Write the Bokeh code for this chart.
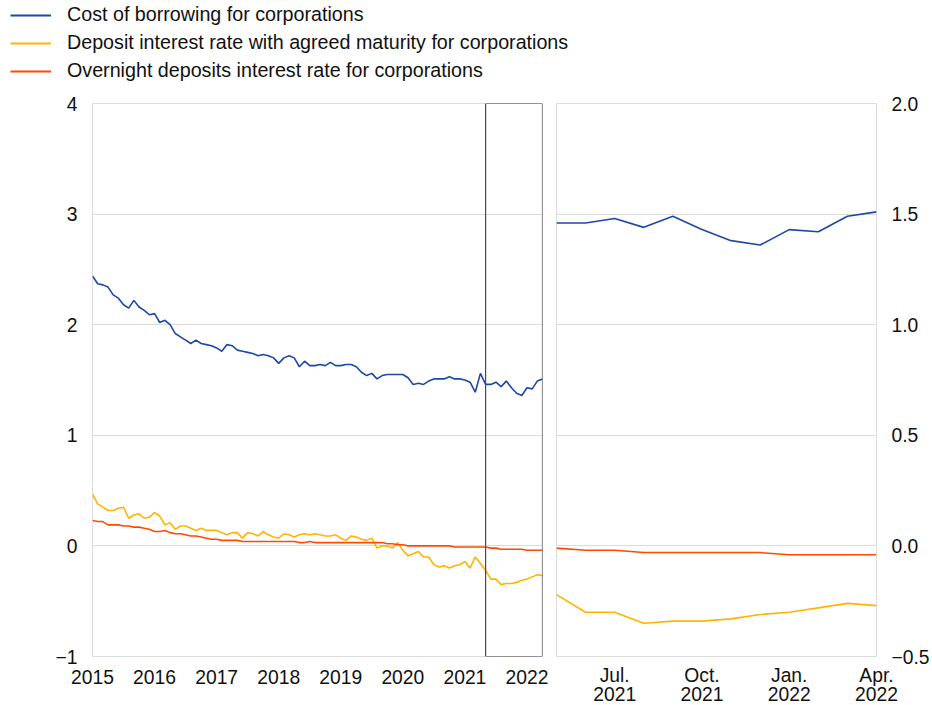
from bokeh.plotting import figure
from bokeh.models import Legend, LegendItem, FixedTicker, BoxAnnotation, Range1d
from bokeh.layouts import row, column
from bokeh.embed import file_html
from bokeh.resources import INLINE

# ---------------- data (monthly, Jan 2015 - Apr 2022) ----------------
months = [f"{y}-{m:02d}" for y in range(2015, 2023) for m in range(1, 13)][:88]

cost_of_borrowing = [
    2.44, 2.37, 2.36, 2.34, 2.27, 2.24, 2.18, 2.15, 2.22, 2.16, 2.13, 2.09,
    2.10, 2.02, 2.04, 2.00, 1.92, 1.89, 1.86, 1.83, 1.86, 1.83, 1.82, 1.81,
    1.79, 1.76, 1.82, 1.81, 1.77, 1.76, 1.75, 1.74, 1.72, 1.73, 1.72, 1.70,
    1.65, 1.70, 1.72, 1.70, 1.62, 1.67, 1.63, 1.63, 1.64, 1.63, 1.66, 1.63,
    1.63, 1.64, 1.64, 1.62, 1.57, 1.54, 1.56, 1.51, 1.54, 1.55, 1.55, 1.55,
    1.55, 1.52, 1.46, 1.47, 1.46, 1.49, 1.51, 1.51, 1.51, 1.53, 1.51, 1.51,
    1.50, 1.48, 1.39, 1.56, 1.46, 1.46, 1.48, 1.44, 1.49, 1.43, 1.38, 1.36,
    1.43, 1.42, 1.49, 1.51,
]
deposit_agreed_maturity = [
    0.47, 0.38, 0.35, 0.32, 0.32, 0.34, 0.35, 0.25, 0.28, 0.29, 0.25, 0.26,
    0.30, 0.27, 0.19, 0.21, 0.15, 0.18, 0.18, 0.16, 0.14, 0.16, 0.14, 0.14,
    0.14, 0.12, 0.10, 0.12, 0.12, 0.07, 0.12, 0.11, 0.09, 0.13, 0.10, 0.08,
    0.07, 0.11, 0.10, 0.08, 0.10, 0.11, 0.10, 0.11, 0.10, 0.09, 0.09, 0.10,
    0.07, 0.05, 0.09, 0.08, 0.06, 0.05, 0.07, -0.02, 0.00, 0.00, -0.02, 0.03,
    -0.04, -0.09, -0.07, -0.05, -0.10, -0.10, -0.17, -0.19, -0.18, -0.20, -0.18, -0.17,
    -0.14, -0.20, -0.10, -0.16, -0.22, -0.30, -0.30, -0.35, -0.34, -0.34, -0.33, -0.31,
    -0.30, -0.28, -0.26, -0.27,
]
overnight_deposits = [
    0.23, 0.22, 0.22, 0.19, 0.19, 0.19, 0.18, 0.18, 0.17, 0.17, 0.16, 0.15,
    0.13, 0.13, 0.14, 0.12, 0.11, 0.11, 0.10, 0.09, 0.09, 0.08, 0.07, 0.06,
    0.06, 0.05, 0.05, 0.05, 0.05, 0.04, 0.04, 0.04, 0.04, 0.04, 0.04, 0.04,
    0.04, 0.04, 0.04, 0.04, 0.03, 0.03, 0.04, 0.03, 0.03, 0.03, 0.03, 0.03,
    0.03, 0.03, 0.03, 0.03, 0.03, 0.03, 0.03, 0.03, 0.03, 0.02, 0.02, 0.01,
    0.01, 0.00, 0.00, 0.00, 0.00, 0.00, 0.00, 0.00, 0.00, 0.00, -0.01, -0.01,
    -0.01, -0.01, -0.01, -0.01, -0.01, -0.02, -0.02, -0.03, -0.03, -0.03, -0.03, -0.03,
    -0.04, -0.04, -0.04, -0.04,
]

series_labels = [
    "Cost of borrowing for corporations",
    "Deposit interest rate with agreed maturity for corporations",
    "Overnight deposits interest rate for corporations",
]
series_colors = ["#1d48a6", "#ffb400", "#ff4b00"]

year_labels = ["2015", "2016", "2017", "2018", "2019", "2020", "2021", "2022"]
zoom_first, zoom_last = "2021-05", "2022-04"
zoom_tick_months = ["2021-07", "2021-10", "2022-01", "2022-04"]
zoom_tick_labels = ["Jul.\n2021", "Oct.\n2021", "Jan.\n2022", "Apr.\n2022"]

left_y_ticks = [-1, 0, 1, 2, 3, 4]
left_y_labels = ["\u22121", "0", "1", "2", "3", "4"]
right_y_ticks = [-0.5, 0.0, 0.5, 1.0, 1.5, 2.0]
right_y_labels = ["\u22120.5", "0.0", "0.5", "1.0", "1.5", "2.0"]

# ---------------- derived ----------------
x = list(range(len(months)))
year_ticks = [months.index(f"{y}-01") for y in year_labels]
z0, z1 = months.index(zoom_first), months.index(zoom_last)
zoom_ticks = [months.index(m) for m in zoom_tick_months]
all_series = [cost_of_borrowing, deposit_agreed_maturity, overnight_deposits]

FONT = "Liberation Sans"
GRID = "#dcdcdc"
LINE_W = 1.6
NAN = float("nan")


def style(p):
    p.background_fill_color = "white"
    p.border_fill_color = "white"
    p.outline_line_color = GRID
    p.xgrid.visible = False
    p.ygrid.grid_line_color = GRID
    p.ygrid.grid_line_width = 1
    for ax in (p.xaxis[0], p.yaxis[0]):
        ax.axis_line_color = None
        ax.major_tick_line_color = None
        ax.minor_tick_line_color = None
        ax.major_tick_out = 0
        ax.major_label_text_font = FONT
        ax.major_label_text_font_size = "19.3px"
        ax.major_label_text_color = "#111111"


# ---------------- legend strip ----------------
p0 = figure(width=931, height=85, x_range=Range1d(0, 1), y_range=Range1d(0, 1),
            x_axis_type=None, y_axis_type=None,
            output_backend="svg", toolbar_location=None, min_border=0)
p0.outline_line_color = None
p0.background_fill_color = "white"
p0.border_fill_color = "white"
# legend-only renderers (no visible data points)
legend_renderers = [p0.line([NAN], [NAN], line_color=c, line_width=LINE_W + 0.4)
                    for c in series_colors]
legend = Legend(
    items=[LegendItem(label=l, renderers=[r]) for l, r in zip(series_labels, legend_renderers)],
    location=(10, 3),
    label_text_font=FONT, label_text_font_size="19.7px", label_text_color="#111111",
    glyph_width=41, glyph_height=22, label_height=22, label_standoff=16,
    spacing=5, padding=0, margin=0,
    border_line_color=None, background_fill_alpha=0,
)
p0.add_layout(legend)

# ---------------- left panel ----------------
p1 = figure(frame_width=450, frame_height=553,
            x_range=Range1d(0, len(months) - 1), y_range=Range1d(-1, 4),
            output_backend="svg", toolbar_location=None,
            min_border_left=92, min_border_right=7,
            min_border_top=18, min_border_bottom=49)
style(p1)
p1.xaxis.ticker = FixedTicker(ticks=year_ticks)
p1.xaxis.major_label_overrides = dict(zip(year_ticks, year_labels))
p1.xaxis.major_label_standoff = 13
p1.yaxis.ticker = FixedTicker(ticks=left_y_ticks)
p1.yaxis.major_label_overrides = dict(zip(left_y_ticks, left_y_labels))
p1.yaxis.major_label_standoff = 15

for ys, c in zip(all_series, series_colors):
    p1.line(x, ys, line_color=c, line_width=LINE_W)

p1.add_layout(BoxAnnotation(left=z0, right=z1, fill_alpha=0,
                            line_color="#4a4a4a", line_alpha=1.0, line_width=1.2))

# ---------------- right (zoom) panel ----------------
p2 = figure(frame_width=320, frame_height=553,
            x_range=Range1d(z0, z1), y_range=Range1d(-0.5, 2.0),
            y_axis_location="right",
            output_backend="svg", toolbar_location=None,
            min_border_left=7, min_border_right=55,
            min_border_top=18, min_border_bottom=49)
style(p2)
p2.xaxis.ticker = FixedTicker(ticks=zoom_ticks)
p2.xaxis.major_label_overrides = dict(zip(zoom_ticks, zoom_tick_labels))
p2.xaxis.major_label_standoff = 8
p2.xaxis.major_label_text_line_height = 0.92
p2.yaxis.ticker = FixedTicker(ticks=right_y_ticks)
p2.yaxis.major_label_overrides = dict(zip(right_y_ticks, right_y_labels))
p2.yaxis.major_label_standoff = 15

xz = x[z0:z1 + 1]
for ys, c in zip(all_series, series_colors):
    p2.line(xz, ys[z0:z1 + 1], line_color=c, line_width=LINE_W)

layout = column(p0, row(p1, p2))
open("out.html", "w").write(file_html(layout, INLINE))
